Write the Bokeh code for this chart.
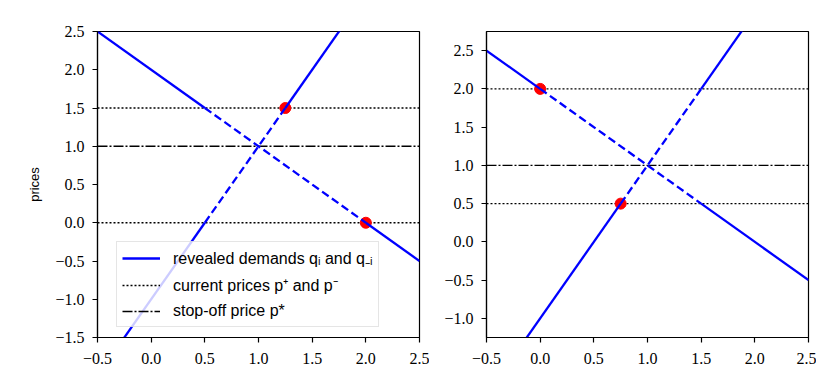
from bokeh.plotting import figure
from bokeh.layouts import row
from bokeh.models import FixedTicker, CustomJSTickFormatter, Legend, LegendItem, Range1d
from bokeh.embed import file_html
from bokeh.resources import INLINE

# ---------------- data ----------------
X_LIM = [-0.5, 2.5]
X_TICKS = [-0.5, 0.0, 0.5, 1.0, 1.5, 2.0, 2.5]
STOP_OFF = [1.0]

# left panel
L_Y_LIM = [-1.5, 2.5]
L_Y_TICKS = [-1.5, -1.0, -0.5, 0.0, 0.5, 1.0, 1.5, 2.0, 2.5]
L_SOLID_X = [[-0.5, 0.5], [2.0, 2.5], [-0.5, 0.5], [1.25, 2.5]]
L_SOLID_Y = [[2.5, 1.5], [0.0, -0.5], [-2.0, 0.0], [1.5, 4.0]]
L_DASH_X = [[0.5, 2.0], [0.5, 1.25]]
L_DASH_Y = [[1.5, 0.0], [0.0, 1.5]]
L_POINT_X = [1.25, 2.0]
L_POINT_Y = [1.5, 0.0]
L_CURRENT = [1.5, 0.0]

# right panel
R_Y_LIM = [-1.25, 2.75]
R_Y_TICKS = [-1.0, -0.5, 0.0, 0.5, 1.0, 1.5, 2.0, 2.5]
R_SOLID_X = [[-0.5, 0.0], [1.5, 2.5], [-0.5, 0.75], [1.5, 2.5]]
R_SOLID_Y = [[2.5, 2.0], [0.5, -0.5], [-2.0, 0.5], [2.0, 4.0]]
R_DASH_X = [[0.0, 1.5], [0.75, 1.5]]
R_DASH_Y = [[2.0, 0.5], [0.5, 2.0]]
R_POINT_X = [0.0, 0.75]
R_POINT_Y = [2.0, 0.5]
R_CURRENT = [2.0, 0.5]

LEGEND_LABELS = [
    "revealed demands q\u1d62 and q\u208b\u1d62",
    "current prices p\u207a and p\u207b",
    "stop-off price p*",
]
Y_LABEL = "prices"

BLUE = "#0000ff"
RED = "#ff0000"
TICK_FONT = "'Liberation Serif', serif"
TEXT_FONT = "Liberation Sans"

fmt_code = "return (tick < 0 ? '\\u2212' : '') + Math.abs(tick).toFixed(1);"


def make_panel(y_lim, y_ticks, solid_x, solid_y, dash_x, dash_y, px, py,
               current, border_left, border_right, ylabel=None):
    p = figure(frame_width=322, frame_height=306,
               x_range=Range1d(*X_LIM), y_range=Range1d(*y_lim),
               output_backend="svg", toolbar_location=None,
               min_border_left=border_left, min_border_right=border_right,
               min_border_top=31, min_border_bottom=38)
    p.xgrid.visible = False
    p.ygrid.visible = False
    p.outline_line_color = "black"
    p.outline_line_alpha = 1.0
    p.outline_line_width = 1.2
    p.background_fill_color = "white"
    p.border_fill_color = "white"

    for ax, ticks in ((p.xaxis[0], X_TICKS), (p.yaxis[0], y_ticks)):
        ax.ticker = FixedTicker(ticks=ticks)
        ax.formatter = CustomJSTickFormatter(code=fmt_code)
        ax.minor_tick_line_color = None
        ax.major_tick_in = 0
        ax.major_tick_out = 5
        ax.major_tick_line_width = 1.2
        ax.major_tick_line_color = "black"
        ax.axis_line_color = "black"
        ax.axis_line_width = 1.2
        ax.major_label_text_font = TICK_FONT
        ax.major_label_text_font_size = "16px"
        ax.major_label_text_color = "black"
    p.xaxis[0].major_label_standoff = 10
    p.yaxis[0].major_label_standoff = 8
    if ylabel:
        p.yaxis[0].axis_label = ylabel
        p.yaxis[0].axis_label_text_font = TEXT_FONT
        p.yaxis[0].axis_label_text_font_size = "13px"
        p.yaxis[0].axis_label_text_font_style = "normal"
        p.yaxis[0].axis_label_text_color = "black"
        p.yaxis[0].axis_label_standoff = 10

    n = len(current)
    r_cur = p.segment(x0=[X_LIM[0]] * n, x1=[X_LIM[1]] * n, y0=current, y1=current,
                      line_color="black", line_width=1.4, line_dash="2 2")
    r_stop = p.segment(x0=[X_LIM[0]], x1=[X_LIM[1]], y0=STOP_OFF, y1=STOP_OFF,
                       line_color="black", line_width=1.4, line_dash="10 2 2 2")
    p.scatter(px, py, size=11, color=RED, line_color=RED)
    r_solid = p.multi_line(solid_x, solid_y, line_color=BLUE, line_width=2.3)
    p.multi_line(dash_x, dash_y, line_color=BLUE, line_width=2.3, line_dash="8 4")
    return p, r_solid, r_cur, r_stop


p1, s1, c1, st1 = make_panel(L_Y_LIM, L_Y_TICKS, L_SOLID_X, L_SOLID_Y, L_DASH_X, L_DASH_Y,
                             L_POINT_X, L_POINT_Y, L_CURRENT, 97, 10, ylabel=Y_LABEL)
p2, s2, c2, st2 = make_panel(R_Y_LIM, R_Y_TICKS, R_SOLID_X, R_SOLID_Y, R_DASH_X, R_DASH_Y,
                             R_POINT_X, R_POINT_Y, R_CURRENT, 57, 8)

legend = Legend(items=[LegendItem(label=LEGEND_LABELS[0], renderers=[s1]),
                       LegendItem(label=LEGEND_LABELS[1], renderers=[c1]),
                       LegendItem(label=LEGEND_LABELS[2], renderers=[st1])],
                location=(19, 10), padding=5, spacing=5, margin=0,
                glyph_width=38, glyph_height=20, label_height=20, label_standoff=13,
                label_text_font=TEXT_FONT, label_text_font_size="16px",
                label_text_color="black",
                background_fill_color="white", background_fill_alpha=0.8,
                border_line_color="#cccccc", border_line_width=1)
p1.add_layout(legend)

layout = row(p1, p2)
open("out.html", "w", encoding="utf-8").write(file_html(layout, INLINE))
